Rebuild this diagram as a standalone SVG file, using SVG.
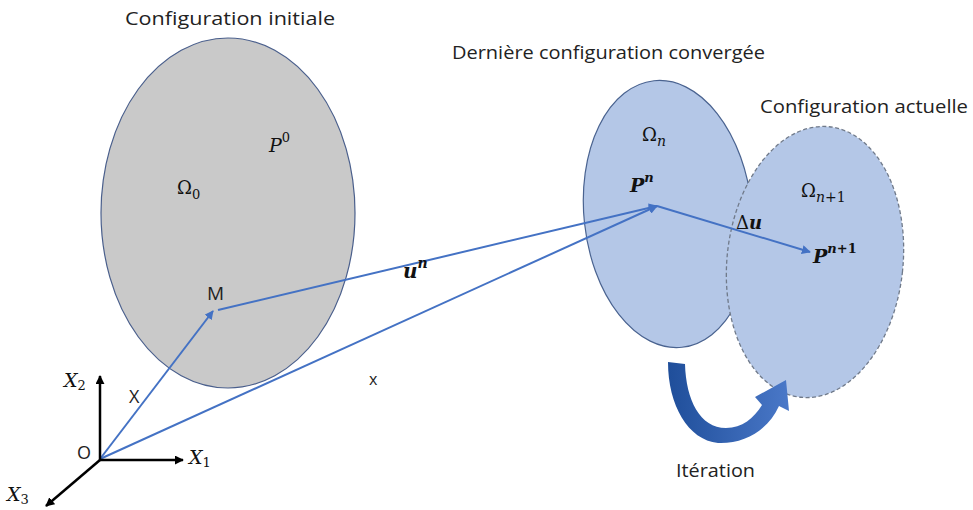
<svg xmlns="http://www.w3.org/2000/svg" width="973" height="510" viewBox="0 0 973 510">
<style>
.lbl{font-family:"Open Sans","Liberation Sans",sans-serif;fill:#222;}
.m{font-family:"DejaVu Serif","Liberation Serif",serif;fill:#111;}
.it{font-style:italic;}
.bi{font-style:italic;font-weight:bold;}
.blue{stroke:#4472c4;stroke-width:2;fill:none;}
.axis{stroke:#000;stroke-width:2.5;fill:none;}
</style>
<defs>
<marker id="ab" viewBox="0 0 10 10" refX="9" refY="5" markerWidth="4.5" markerHeight="4.5" orient="auto" markerUnits="strokeWidth"><path d="M0,0 L10,5 L0,10 z" fill="#4472c4"/></marker>
<marker id="ak" viewBox="0 0 10 10" refX="9" refY="5" markerWidth="3.6" markerHeight="3.6" orient="auto" markerUnits="strokeWidth"><path d="M0,0 L10,5 L0,10 z" fill="#000"/></marker>
<linearGradient id="g" x1="0" y1="0" x2="1" y2="0"><stop offset="0" stop-color="#1f4e9a"/><stop offset="1" stop-color="#4a78c8"/></linearGradient>
</defs>
<rect width="973" height="510" fill="#fff"/>

<g id="omega0">
<ellipse cx="228" cy="213" rx="127" ry="175" fill="#c9c9c9" stroke="#4a5f8c" stroke-width="1.2"/>
<text class="lbl" x="125" y="25" font-size="19" textLength="210" lengthAdjust="spacingAndGlyphs">Configuration initiale</text>
<text class="m" x="177" y="194" font-size="18">Ω<tspan font-size="13" dy="5">0</tspan></text>
<text class="m it" x="269" y="152" font-size="19">P<tspan font-size="13" dy="-10" font-style="normal">0</tspan></text>
<text class="lbl" x="207" y="300" font-size="19">M</text>
</g>

<g id="omegan">
<ellipse cx="668" cy="214" rx="84" ry="134" transform="rotate(-6 668 214)" fill="#b4c7e7" stroke="#4a6390" stroke-width="1.2"/>
<text class="lbl" x="452" y="59" font-size="19" textLength="313" lengthAdjust="spacingAndGlyphs">Dernière configuration convergée</text>
</g>

<g id="omegan1">
<ellipse cx="815" cy="262" rx="88" ry="136" transform="rotate(6 815 262)" fill="#b4c7e7" stroke="#707a8a" stroke-width="1.3" stroke-dasharray="4 2.5"/>
<text class="lbl" x="760" y="113" font-size="19" textLength="208" lengthAdjust="spacingAndGlyphs">Configuration actuelle</text>
</g>

<g id="labels-right">
<text class="m" x="642" y="141" font-size="18">Ω<tspan class="it" font-size="14" dy="5">n</tspan></text>
<text class="m it" x="630" y="192" font-size="19" font-weight="bold">P<tspan font-size="13" dy="-10">n</tspan></text>
<text class="m" x="801" y="197" font-size="18">Ω<tspan font-size="14" dy="5"><tspan class="it">n</tspan>+1</tspan></text>
<text class="m it" x="813" y="263" font-size="19" font-weight="bold">P<tspan font-size="13" dy="-10"><tspan>n</tspan><tspan font-style="normal">+1</tspan></tspan></text>
</g>

<g id="connectors">
<line class="blue" x1="100" y1="459" x2="213" y2="311" marker-end="url(#ab)"/>
<line class="blue" x1="218" y1="310" x2="657" y2="206" marker-end="url(#ab)"/>
<line class="blue" x1="100" y1="459" x2="657" y2="206" marker-end="url(#ab)"/>
<line class="blue" x1="657" y1="206" x2="810" y2="252" marker-end="url(#ab)"/>
</g>

<g id="vec-labels">
<text class="m bi" x="403" y="278" font-size="20">u<tspan font-size="14" dy="-10">n</tspan></text>
<text class="m" x="736" y="229" font-size="18">Δ<tspan class="bi">u</tspan></text>
<text class="lbl" x="129" y="403" font-size="18">X</text>
<text class="lbl" x="369" y="385" font-size="16">x</text>
</g>

<g id="axes">
<line class="axis" x1="100" y1="460" x2="100" y2="376" marker-end="url(#ak)"/>
<line class="axis" x1="100" y1="460" x2="183" y2="460" marker-end="url(#ak)"/>
<line class="axis" x1="100" y1="460" x2="46" y2="506" marker-end="url(#ak)"/>
<text class="m it" x="64" y="387" font-size="19">X<tspan font-size="13" dy="3" font-style="normal">2</tspan></text>
<text class="m it" x="189" y="464" font-size="19">X<tspan font-size="13" dy="3" font-style="normal">1</tspan></text>
<text class="m it" x="7" y="501" font-size="19">X<tspan font-size="13" dy="3" font-style="normal">3</tspan></text>
<text class="lbl" x="77" y="459" font-size="18">O</text>
</g>

<g id="iteration">
<path d="M668 362 L685 364 C686 400 700 428 726 428 C742 428 754 418 762 405 L755 397 L786 380 L789 411 L779 406 C768 430 745 444 718 443 C688 440 668 405 668 362 Z" fill="url(#g)"/>
<text class="lbl" x="676" y="477" font-size="19" textLength="79" lengthAdjust="spacingAndGlyphs">Itération</text>
</g>
</svg>
